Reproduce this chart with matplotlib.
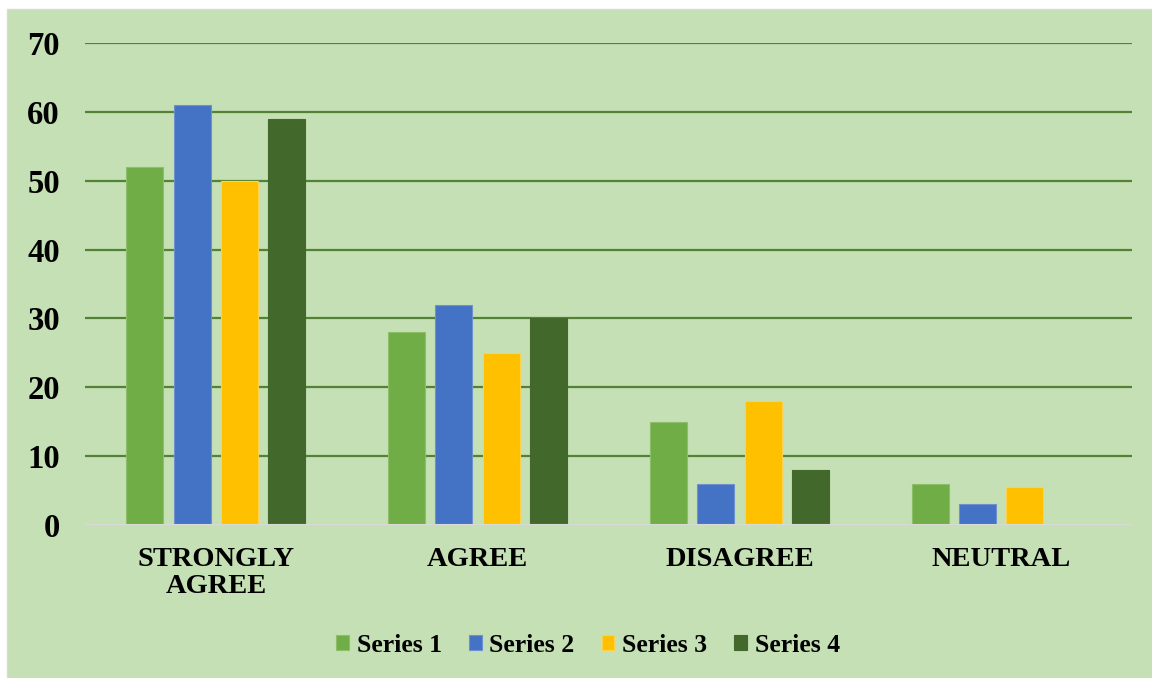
import matplotlib.pyplot as plt
import numpy as np
from matplotlib.patches import Rectangle

categories = ["STRONGLY\nAGREE", "AGREE", "DISAGREE", "NEUTRAL"]
series_names = ["Series 1", "Series 2", "Series 3", "Series 4"]
series_1 = [52, 28, 15, 6]
series_2 = [61, 32, 6, 3]
series_3 = [50, 25, 18, 5.5]
series_4 = [59, 30, 8, 0]
y_ticks = [0, 10, 20, 30, 40, 50, 60, 70]

colors = ["#70AD47", "#4472C4", "#FFC000", "#43682B"]
edges = ["#8DBF6A", "#6F91D0", "#FFD24D", "#43682B"]
bg = "#C5E0B4"

plt.rcParams['font.family'] = ['Liberation Serif', 'DejaVu Serif']
plt.rcParams['font.weight'] = 'bold'

fig = plt.figure(figsize=(11.52, 6.78), dpi=100)
fig.patch.set_facecolor("white")
# green panel with a thin gray frame on top/left like the source
fig.patches.append(Rectangle((7/1152, 0), 1 - 7/1152, 1 - 9/678, transform=fig.transFigure,
                             facecolor=bg, edgecolor="#D9D9D9", linewidth=1.0, zorder=-10))

ax = fig.add_axes([85/1152, 153/678, 1047/1152, 482/678])
ax.set_facecolor(bg)
ax.patch.set_alpha(0)

x = np.arange(len(categories))
width = 0.141
pitch = 0.181
all_series = [series_1, series_2, series_3, series_4]
for i, vals in enumerate(all_series):
    ax.bar(x + (i - 1.5) * pitch, vals, width=width, color=colors[i],
           edgecolor=edges[i], linewidth=0.8, label=series_names[i], zorder=3)

ax.set_xlim(-0.5, 3.5)
ax.set_ylim(0, 70)
ax.set_yticks(y_ticks)
ax.set_yticklabels([str(t) for t in y_ticks], fontsize=23.5, fontweight='bold')
ax.set_xticks(x)
ax.set_xticklabels(categories, fontsize=20.5, fontweight='bold', linespacing=1.1)
ax.tick_params(axis='both', length=0)
ax.tick_params(axis='y', pad=18)
ax.tick_params(axis='x', pad=16)

for t in y_ticks[1:]:
    ax.axhline(t, color="#548235", linewidth=1.6, zorder=1)
ax.axhline(0, color="#D9D9D9", linewidth=1.5, zorder=4)

for s in ax.spines.values():
    s.set_visible(False)

leg = fig.legend(loc='center', bbox_to_anchor=(588/1152, 1 - 645/678), ncol=4,
                 frameon=False, prop={'size': 18.5, 'weight': 'bold'},
                 handlelength=0.5, handleheight=0.5, handletextpad=0.3, columnspacing=1.05)

fig.savefig("out.png", dpi=100, facecolor=fig.get_facecolor())
